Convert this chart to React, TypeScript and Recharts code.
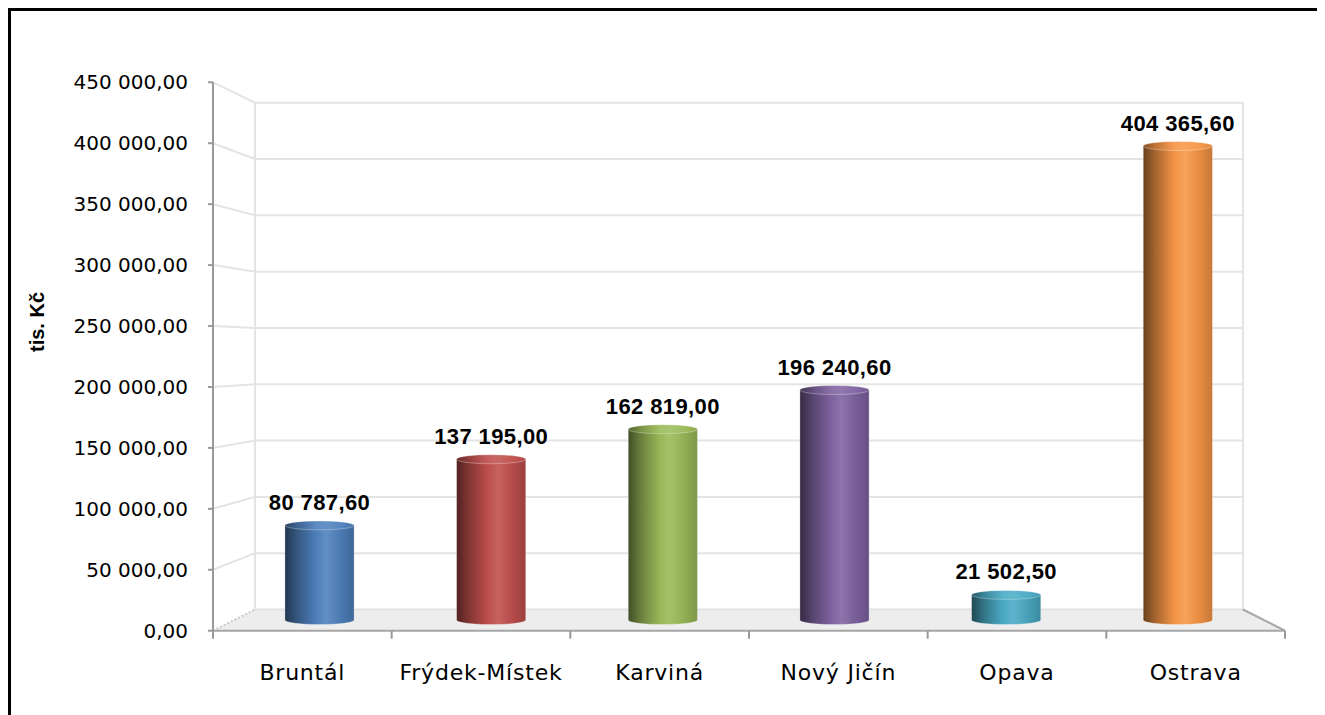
import React from 'react';
import { BarChart, Bar, XAxis, YAxis, CartesianGrid, LabelList, Label } from 'recharts';

// ---------- data ----------
const categories = ['Bruntál', 'Frýdek-Místek', 'Karviná', 'Nový Jičín', 'Opava', 'Ostrava'];
const values = [80787.6, 137195.0, 162819.0, 196240.6, 21502.5, 404365.6];
const yTicks = [0, 50000, 100000, 150000, 200000, 250000, 300000, 350000, 400000, 450000];
const barColors = ['#4f81bd', '#c0504d', '#9bbb59', '#8064a2', '#4bacc6', '#f79646'];
const yLabel = 'tis. Kč';

const data = categories.map((name, i) => ({ name, value: values[i] }));

// ---------- layout ----------
const W = 1317;
const H = 707;
const YW = 120; // y axis width
const XH = 60; // x axis height
const PL = 205, PR = 1277, PT = 74.3, PB = 622.7; // front plane (plot area)
const BL = 247, BR = 1235, BT = 94.7, BB = 601.5; // back plane
const BAR_DEPTH = 0.5;

const projX = (x: number, d: number) => {
  const u = (x - PL) / (PR - PL);
  const xl = PL + d * (BL - PL);
  const xr = PR + d * (BR - PR);
  return xl + u * (xr - xl);
};
const projY = (y: number, d: number) => {
  const v = (PB - y) / (PB - PT);
  const b = PB + d * (BB - PB);
  const t = PT + d * (BT - PT);
  return b - v * (b - t);
};
const scaleX = (d: number) => (PR + d * (BR - PR) - (PL + d * (BL - PL))) / (PR - PL);

const fmt = (v: number) => {
  const [i, d] = v.toFixed(2).split('.');
  return i.replace(/\B(?=(\d{3})+(?!\d))/g, ' ') + ',' + d;
};

const shade = (hex: string, f: number) => {
  const n = parseInt(hex.slice(1), 16);
  const ch = [(n >> 16) & 255, (n >> 8) & 255, n & 255].map((c) => {
    const r = f <= 1 ? c * f : c + (255 - c) * (f - 1);
    return Math.max(0, Math.min(255, Math.round(r)));
  });
  return '#' + ch.map((c) => c.toString(16).padStart(2, '0')).join('');
};

const GRID = '#e4e4e4';
const RY = 4.5;

const Cylinder = (props: any) => {
  const { x, y, width, height, index } = props;
  if (width == null || height == null) return null;
  const c = barColors[index % barColors.length];
  const cx = projX(x + width / 2, BAR_DEPTH);
  const rx = (width * scaleX(BAR_DEPTH)) / 2;
  const yTop = projY(y, BAR_DEPTH);
  const yBot = projY(y + height, BAR_DEPTH);
  const gid = `cylg-${index}`;
  const tid = `cylt-${index}`;
  const stops = [
    [0, 0.42],
    [0.18, 0.68],
    [0.45, 0.98],
    [0.6, 1.1],
    [0.82, 0.93],
    [1, 0.8],
  ];
  return (
    <g>
      <defs>
        <linearGradient id={gid} x1="0" y1="0" x2="1" y2="0">
          {stops.map(([o, f]) => (
            <stop key={o} offset={o} stopColor={shade(c, f)} />
          ))}
        </linearGradient>
        <linearGradient id={tid} x1="0" y1="0" x2="1" y2="0">
          {stops.map(([o, f]) => (
            <stop key={o} offset={o} stopColor={shade(c, f > 1 ? f + 0.03 : f + 0.1)} />
          ))}
        </linearGradient>
      </defs>
      <path
        d={`M${cx - rx},${yTop} L${cx - rx},${yBot} A${rx},${RY} 0 0 0 ${cx + rx},${yBot} L${cx + rx},${yTop} Z`}
        fill={`url(#${gid})`}
        stroke="rgba(255,255,255,0.3)"
        strokeWidth={1}
      />
      <ellipse cx={cx} cy={yTop} rx={rx} ry={RY} fill={`url(#${tid})`} stroke="rgba(255,255,255,0.3)" strokeWidth={1} />
    </g>
  );
};

const BarValueLabel = (p: any) => {
  const vb = p.viewBox || {};
  const x = p.x ?? vb.x;
  const y = p.y ?? vb.y;
  const width = p.width ?? vb.width;
  if (x == null || y == null) return null;
  const cx = projX(x + width / 2, BAR_DEPTH);
  const yTop = projY(y, BAR_DEPTH);
  return (
    <text
      x={cx}
      y={yTop - RY - 11}
      textAnchor="middle"
      fontFamily="'Liberation Sans', Arial, sans-serif"
      fontWeight="bold"
      fontSize={22}
      letterSpacing={0.4}
      fill="#000"
    >
      {fmt(Number(p.value))}
    </text>
  );
};

const gridLine = (p: any) => {
  const y = p.y1;
  const yb = projY(y, 1);
  const isFloor = Math.abs(y - PB) < 1;
  if (isFloor) {
    return (
      <g key={p.key}>
        <polygon points={`${PL},${PB} ${PR},${PB} ${BR},${BB} ${BL},${BB}`} fill="#ededed" />
        <line x1={BL} y1={BT} x2={BL} y2={BB} stroke={GRID} strokeWidth={2} />
        <line x1={BR} y1={BT} x2={BR} y2={BB} stroke={GRID} strokeWidth={2} />
        <line x1={BL} y1={BB} x2={BR} y2={BB} stroke="#e2e2e2" strokeWidth={2} />
        <line x1={PL} y1={PB} x2={BL} y2={BB} stroke="#c8c8c8" strokeWidth={2} strokeDasharray="2 2" />
        <line x1={BR} y1={BB} x2={PR} y2={PB} stroke="#a6a6a6" strokeWidth={2} />
      </g>
    );
  }
  return (
    <g key={p.key}>
      <line x1={PL} y1={y} x2={BL} y2={yb} stroke={GRID} strokeWidth={2} />
      <line x1={BL} y1={yb} x2={BR} y2={yb} stroke={GRID} strokeWidth={2} />
    </g>
  );
};

const XTick = (p: any) => {
  const { x, y, payload, index } = p;
  const off = payload?.offset ?? (PR - PL) / categories.length / 2;
  const isLast = index === categories.length - 1;
  return (
    <g>
      <line x1={x - off} y1={PB} x2={x - off} y2={PB + 8} stroke="#999" strokeWidth={2} />
      {isLast && <line x1={x + off} y1={PB} x2={x + off} y2={PB + 8} stroke="#999" strokeWidth={2} />}
      <text
        x={x}
        y={y}
        dy="0.71em"
        textAnchor="middle"
        fontFamily="'DejaVu Sans', sans-serif"
        fontSize={22}
        letterSpacing={0.8}
        fill="#000"
      >
        {payload.value}
      </text>
    </g>
  );
};

export default function App() {
  return (
    <div
      style={{
        position: 'relative',
        width: W,
        height: H,
        borderLeft: '3px solid #000',
        borderTop: '3px solid #000',
        boxSizing: 'border-box',
      }}
    >
      <style>{`html,body{overflow:hidden}`}</style>
      <div style={{ position: 'absolute', left: -3, top: -3 }}>
        <BarChart
          width={W}
          height={H}
          data={data}
          margin={{ top: PT, right: W - PR, bottom: H - PB - XH, left: PL - YW }}
          barSize={72}
        >
          <CartesianGrid vertical={false} horizontal={gridLine} />
          <XAxis
            dataKey="name"
            height={XH}
            interval={0}
            tickSize={8}
            tickMargin={26}
            tickLine={false}
            axisLine={{ stroke: '#a6a6a6', strokeWidth: 2 }}
            tick={<XTick />}
          />
          <YAxis
            width={YW}
            domain={[0, 450000]}
            ticks={yTicks}
            interval={0}
            tickSize={5}
            tickMargin={20}
            tickFormatter={fmt}
            axisLine={{ stroke: '#999', strokeWidth: 2 }}
            tickLine={{ stroke: '#999', strokeWidth: 2 }}
            tick={{ fontSize: 20, fill: '#000', fontFamily: "'DejaVu Sans', sans-serif" }}
          >
            <Label
              content={() => (
                <text
                  x={29}
                  y={314}
                  transform="rotate(-90 29 314)"
                  textAnchor="middle"
                  dominantBaseline="central"
                  fontFamily="'Liberation Sans', Arial, sans-serif"
                  fontWeight="bold"
                  fontSize={20}
                  fill="#000"
                >
                  {yLabel}
                </text>
              )}
            />
          </YAxis>
          <Bar dataKey="value" shape={<Cylinder />} isAnimationActive={false}>
            <LabelList dataKey="value" content={<BarValueLabel />} />
          </Bar>
        </BarChart>
      </div>
    </div>
  );
}
